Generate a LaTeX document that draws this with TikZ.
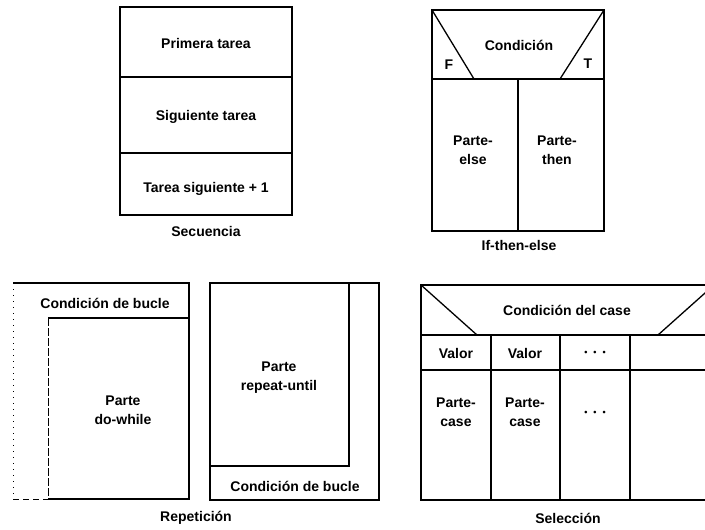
\documentclass[tikz,border=0pt]{standalone}
\usepackage{fontspec}
\setmainfont{Liberation Sans}
\usetikzlibrary{calc}

\begin{document}
\begin{tikzpicture}[x=1pt,y=-1pt,line width=1.3pt,
  txt/.style={font=\bfseries\fontsize{14}{19}\selectfont,align=center,inner sep=0pt}]
  \useasboundingbox (0,0) rectangle (705,530);
  % secuencia
  \draw (120,7) rectangle (292,215);
  \draw (120,77) -- (292,77);
  \draw (120,153) -- (292,153);
  \node[txt] (first) at (206,43) {Primera tarea};
  \node[txt] (next) at (206,117) {Siguiente tarea};
  \node[txt] (nextone) at (206,189) {Tarea siguiente + 1};
  \node[txt] (seq) at (206,231) {Secuencia};
  % if-then-else
  \draw (432,10) rectangle (604,231);
  \draw (432,79) -- (604,79);
  \draw (518,79) -- (518,231);
  \draw (432,10) -- (474,79);
  \draw (604,10) -- (560,79);
  \node[txt] (cond) at (519,45) {Condición};
  \node[txt] (f) at (449,65) {F};
  \node[txt] (t) at (588,64) {T};
  \node[txt] (else) at (473,150) {Parte-\\else};
  \node[txt] (then) at (557,150) {Parte-\\then};
  \node[txt] (ite) at (519,245) {If-then-else};
  % do-while
  \draw (13,283) -- (189,283) -- (189,499) -- (48,499);
  \draw[line width=.8pt,dash pattern=on 1pt off 5pt] (13,283) -- (13,499);
  \draw[line width=1pt,dash pattern=on 6pt off 4pt] (13,499) -- (48,499);
  \draw (48,318) -- (189,318);
  \draw[line width=1pt,dash pattern=on 8pt off 2pt] (48,318) -- (48,499);
  \node[txt] (dwcond) at (105,303) {Condición de bucle};
  \node[txt] (dw) at (123,410) {Parte\\do-while};
  % repeat-until
  \draw (210,283) rectangle (379,500);
  \draw (349,283) -- (349,466) -- (210,466);
  \node[txt] (ru) at (279,378) {Parte\\repeat-until};
  \node[txt] (rucond) at (295,486) {Condición de bucle};
  \node[txt] (rep) at (196,518) {Repetición};
  % seleccion
  \begin{scope}
    \clip (0,0) rectangle (705,530);
    \draw (421,285) rectangle (714,500);
    \draw (421,335) -- (714,335);
    \draw (421,370) -- (714,370);
    \foreach \x in {491,560,630}
      \draw (\x,335) -- (\x,500);
    \draw (421,285) -- (477,335);
    \draw (714,285) -- (658,335);
  \end{scope}
  \node[txt] (case) at (567,310) {Condición del case};
  \node[txt] (v1) at (456,353) {Valor};
  \node[txt] (v2) at (525,353) {Valor};
  \node[txt] (vdots) at (595,353) {\fontsize{9}{9}\selectfont •\hspace{6pt}•\hspace{6pt}•};
  \node[txt] (c1) at (456,412) {Parte-\\case};
  \node[txt] (c2) at (525,412) {Parte-\\case};
  \node[txt] (cdots) at (595,413) {\fontsize{9}{9}\selectfont •\hspace{6pt}•\hspace{6pt}•};
  \node[txt] (sel) at (568,518) {Selección};
\end{tikzpicture}
\end{document}
